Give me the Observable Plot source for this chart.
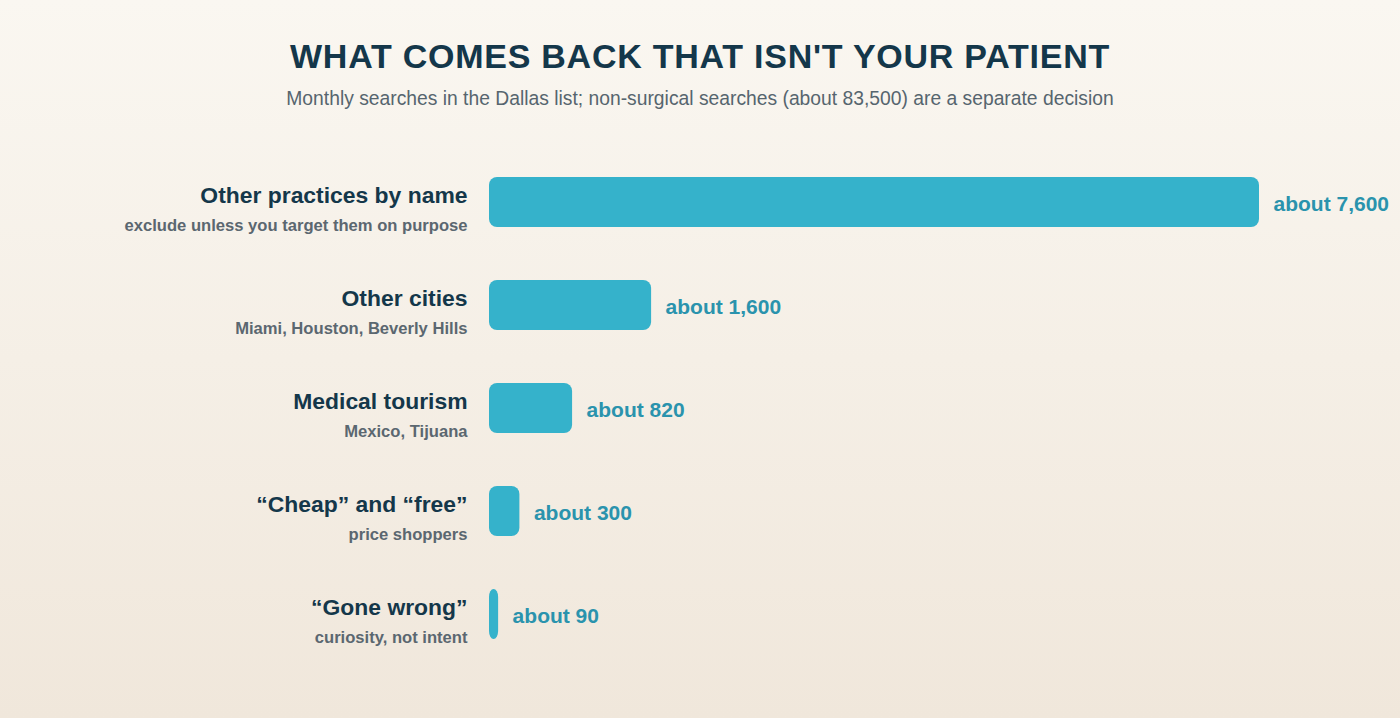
<!DOCTYPE html>
<html>
<head>
<meta charset="utf-8">
<script src="https://cdn.jsdelivr.net/npm/d3@7"></script>
<script src="https://cdn.jsdelivr.net/npm/@observablehq/plot@0.6"></script>
<style>
  html, body { margin: 0; padding: 0; }
  body {
    width: 1400px; height: 718px; overflow: hidden;
    background: linear-gradient(180deg, #faf7f1 0%, #f0e7db 100%);
    font-family: "Liberation Sans", Arial, Helvetica, sans-serif;
  }
  #header { height: 140px; box-sizing: border-box; text-align: center; }
  #title {
    margin: 0; padding-top: 34px; font-size: 34px; line-height: 44px;
    font-weight: 700; letter-spacing: 0.75px; color: #14374a;
  }
  #subtitle {
    margin-top: 9px; font-size: 19.3px; line-height: 24px; color: #56656e;
  }
  svg { display: block; }
</style>
</head>
<body>
<div id="header">
  <div id="title">WHAT COMES BACK THAT ISN'T YOUR PATIENT</div>
  <div id="subtitle">Monthly searches in the Dallas list; non-surgical searches (about 83,500) are a separate decision</div>
</div>
<div id="chart"></div>
<script>
const categories = ["Other practices by name", "Other cities", "Medical tourism", "\u201CCheap\u201D and \u201Cfree\u201D", "\u201CGone wrong\u201D"];
const notes = ["exclude unless you target them on purpose", "Miami, Houston, Beverly Hills", "Mexico, Tijuana", "price shoppers", "curiosity, not intent"];
const values = [7600, 1600, 820, 300, 90];
const valueLabels = ["about 7,600", "about 1,600", "about 820", "about 300", "about 90"];

const data = categories.map((c, i) => ({category: c, note: notes[i], value: values[i], label: valueLabels[i]}));

const chart = Plot.plot({
  width: 1400,
  height: 578,
  marginLeft: 489,
  marginRight: 141,
  marginTop: 0,
  marginBottom: 0,
  style: {background: "transparent", fontFamily: "'Liberation Sans', Arial, sans-serif"},
  x: {domain: [0, 7600], axis: null},
  y: {domain: categories, range: [36.5, 499.5], paddingInner: 0.516, paddingOuter: 0, axis: null},
  marks: [
    Plot.barX(data, {x: "value", y: "category", fill: "#35b2cb", rx: 8}),
    Plot.text(data, {x: 0, y: "category", text: "category", textAnchor: "end", dx: -22, dy: -7,
      fontSize: 22.9, fontWeight: 700, fill: "#14374a"}),
    Plot.text(data, {x: 0, y: "category", text: "note", textAnchor: "end", dx: -22, dy: 23.5,
      fontSize: 16.6, fontWeight: 700, fill: "#5b6770"}),
    Plot.text(data, {x: "value", y: "category", text: "label", textAnchor: "start", dx: 14, dy: 1.5,
      fontSize: 21, fontWeight: 700, fill: "#2a93ad"})
  ]
});
document.getElementById("chart").appendChild(chart);
</script>
</body>
</html>
